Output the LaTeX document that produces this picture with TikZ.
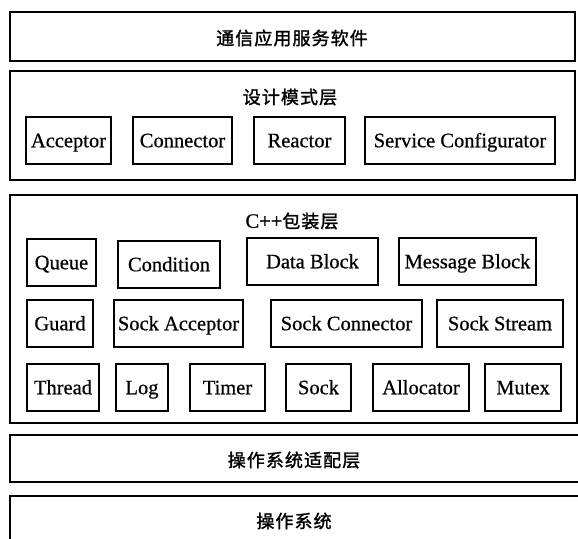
\documentclass[tikz,border=0pt]{standalone}
\usepackage{fontspec}
\setmainfont{Liberation Serif}
\newfontfamily\lat[FakeBold=0.6]{Liberation Serif}
\newfontfamily\cjk[LetterSpace=6,FakeBold=1.5]{Noto Sans CJK SC}
\newcommand\mybox[7]{\node[#1, inner sep=0pt, minimum width={(#5-#3)*1pt}, minimum height={(#6-#4)*1pt}] (#2) at ({(#3+#5)/2},{(#4+#6)/2}) {#7};}
\begin{document}
\begin{tikzpicture}[x=1pt,y=-1pt,
  layerbox/.style={draw, line width=1.4pt, rectangle},
  comp/.style={draw, line width=1.7pt, rectangle, text height=13.5pt, text depth=0pt, font=\lat\fontsize{20.5}{22}\selectfont},
  ttl/.style={font=\cjk\fontsize{18}{20}\selectfont, inner sep=0pt}]
\useasboundingbox (0,0) rectangle (578,538);
% application layer
\mybox{layerbox}{app}{10}{12}{575}{61}{}
\node[ttl] (appT) at (292,38) {通信应用服务软件};
% design pattern layer
\mybox{layerbox}{dp}{10}{71}{575}{180}{}
\node[ttl] (dpT) at (290,97) {设计模式层};
\mybox{comp}{acc}{26}{117}{111}{164}{Acceptor}
\mybox{comp}{con}{133}{117}{232}{164}{Connector}
\mybox{comp}{rea}{254}{117}{345}{164}{Reactor}
\mybox{comp}{svc}{365}{117}{555}{164}{Service Configurator}
% C++ wrapper layer
\mybox{layerbox}{cw}{10}{195}{577}{423}{}
\node[ttl] (cwT) at (292,221) {{\lat\fontsize{20.5}{22}\selectfont C++}包装层};
\mybox{comp}{que}{27}{239}{96}{286}{Queue}
\mybox{comp}{cond}{118}{241}{220}{288}{Condition}
\mybox{comp}{db}{247}{238}{378}{285}{Data Block}
\mybox{comp}{mb}{399}{238}{536}{285}{Message Block}
\mybox{comp}{grd}{27}{300}{93}{347}{Guard}
\mybox{comp}{sa}{114}{300}{243}{347}{Sock Acceptor}
\mybox{comp}{sc}{271}{300}{422}{347}{Sock Connector}
\mybox{comp}{ss}{437}{300}{563}{347}{Sock Stream}
\mybox{comp}{thr}{27}{364}{99}{411}{Thread}
\mybox{comp}{log}{116}{364}{168}{411}{Log}
\mybox{comp}{tim}{190}{364}{265}{411}{Timer}
\mybox{comp}{sock}{286}{364}{351}{411}{Sock}
\mybox{comp}{alc}{373}{364}{469}{411}{Allocator}
\mybox{comp}{mtx}{485}{364}{561}{411}{Mutex}
% OS adaptation layer
\mybox{layerbox}{osa}{10}{435}{582}{482}{}
\node[ttl] (osaT) at (294,460) {操作系统适配层};
% OS
\mybox{layerbox}{os}{10}{496}{582}{560}{}
\node[ttl] (osT) at (294,521) {操作系统};
\end{tikzpicture}
\end{document}
